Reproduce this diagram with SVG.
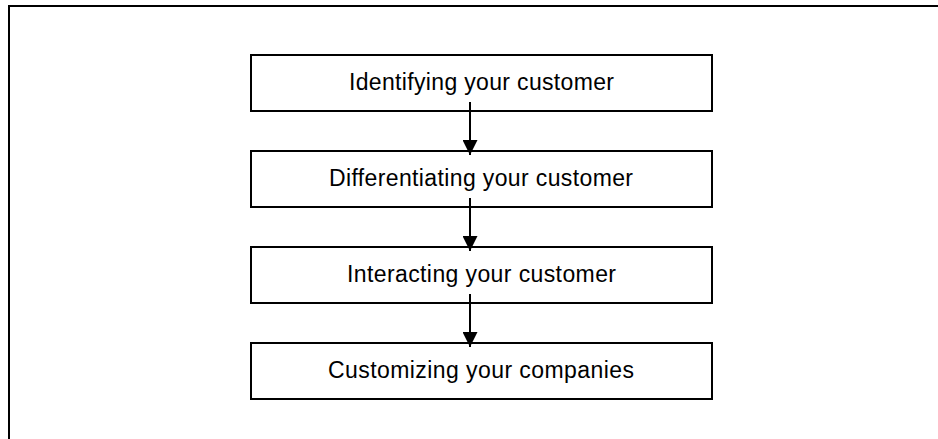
<svg xmlns="http://www.w3.org/2000/svg" width="938" height="439" viewBox="0 0 938 439">
<style>
.box{fill:#fff;stroke:#000;stroke-width:2}
.lbl{font-family:"Liberation Sans",Arial,sans-serif;font-size:23px;fill:#000;text-anchor:middle}
.conn{stroke:#000;stroke-width:2;fill:none}
</style>
<defs>
<marker id="ah" viewBox="0 0 15 15" refX="15" refY="7.5" markerWidth="15" markerHeight="15" markerUnits="userSpaceOnUse" orient="auto">
<path d="M0,0 L15,7.5 L0,15 Z" fill="#000"/>
</marker>
</defs>
<rect width="938" height="439" fill="#fff"/>
<path d="M9,440 L9,6 L940,6" fill="none" stroke="#000" stroke-width="2"/>
<g id="n1"><rect class="box" x="251" y="55" width="461" height="56"/><text class="lbl" x="481.5" y="89.5" textLength="265" lengthAdjust="spacing">Identifying your customer</text></g>
<g id="n2"><rect class="box" x="251" y="151" width="461" height="56"/><text class="lbl" x="481" y="185.5" textLength="304" lengthAdjust="spacing">Differentiating your customer</text></g>
<g id="n3"><rect class="box" x="251" y="247" width="461" height="56"/><text class="lbl" x="481.5" y="281.5" textLength="269" lengthAdjust="spacing">Interacting your customer</text></g>
<g id="n4"><rect class="box" x="251" y="343" width="461" height="56"/><text class="lbl" x="481" y="377.5" textLength="306" lengthAdjust="spacing">Customizing your companies</text></g>
<g id="connectors">
<line class="conn" x1="470" y1="102" x2="470" y2="155" marker-end="url(#ah)"/>
<line class="conn" x1="470" y1="198" x2="470" y2="251" marker-end="url(#ah)"/>
<line class="conn" x1="470" y1="294" x2="470" y2="347" marker-end="url(#ah)"/>
</g>
</svg>
